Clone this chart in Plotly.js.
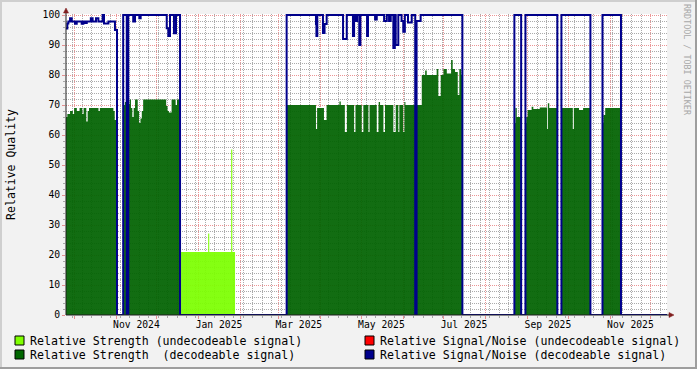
<!DOCTYPE html>
<html><head><meta charset="utf-8">
<script src="https://cdn.plot.ly/plotly-3.0.1.min.js"></script>
<style>html,body{margin:0;padding:0;background:#f2f2f2;overflow:hidden}#chart{width:697px;height:369px}</style>
</head><body><div id="chart"></div>
<script>
// ---------- data ----------
const labelDates = ['2024-11-16','2025-01-16','2025-03-16','2025-05-16','2025-07-16','2025-09-16','2025-11-16'];
const labelTexts = ['Nov 2024','Jan 2025','Mar 2025','May 2025','Jul 2025','Sep 2025','Nov 2025'];

// Relative Strength (undecodeable signal)
const strUndDates = ['2024-09-25','2024-12-19','2025-01-08','2025-01-08 20:00','2025-01-25','2025-01-25 20:00','2025-01-27 21:00','2025-12-13'];
const strUndValues = [0,21,27.2,21,55.2,21,0,0];

// Relative Strength (decodeable signal)
const strDecDates = [
 '2024-09-25','2024-09-26','2024-09-28','2024-09-30','2024-10-01','2024-10-03','2024-10-05','2024-10-07','2024-10-08','2024-10-10','2024-10-11','2024-10-12','2024-10-19','2024-10-20','2024-10-30','2024-10-31','2024-11-01 16:00',
 '2024-11-06 06:00','2024-11-07 12:00','2024-11-08 21:00',
 '2024-11-10','2024-11-11','2024-11-12','2024-11-13','2024-11-14','2024-11-15','2024-11-17','2024-11-18','2024-11-19','2024-11-20','2024-11-21','2024-12-08','2024-12-09','2024-12-10','2024-12-12','2024-12-15','2024-12-16','2024-12-18 06:00',
 '2025-03-07','2025-03-28 16:00','2025-03-29 12:00','2025-04-03 14:00','2025-04-05 12:00','2025-04-15','2025-04-16','2025-04-19','2025-04-20 12:00','2025-04-25 20:00','2025-04-26 20:00','2025-05-01 12:00','2025-05-02 16:00','2025-05-06 10:00','2025-05-07 06:00','2025-05-12 14:00','2025-05-13 20:00','2025-05-14','2025-05-15','2025-05-17 12:00','2025-05-18 16:00','2025-05-24 20:00','2025-05-26 14:00','2025-05-28 12:00','2025-05-29 06:00','2025-06-01 04:00','2025-06-02','2025-06-02 18:00','2025-06-10',
 '2025-06-11','2025-06-14 20:00','2025-06-17 08:00','2025-06-18 12:00','2025-06-25 20:00','2025-06-27 02:00','2025-06-28 20:00','2025-06-30 20:00','2025-07-03 08:00','2025-07-06 12:00','2025-07-07 16:00','2025-07-09 10:00','2025-07-11 10:00','2025-07-12 14:00','2025-07-13 22:00','2025-07-14 20:00',
 '2025-08-22 06:00','2025-08-23','2025-08-24','2025-08-27 06:00',
 '2025-08-30 10:00','2025-08-31','2025-09-01','2025-09-04','2025-09-05 06:00','2025-09-10','2025-09-15 10:00','2025-09-16','2025-09-17','2025-09-23',
 '2025-09-26','2025-10-04 10:00','2025-10-05 04:00','2025-10-09','2025-10-12','2025-10-17 10:00',
 '2025-10-26 08:00','2025-10-27','2025-10-28 08:00','2025-11-08 08:00','2025-11-09','2025-12-13'];
const strDecValues = [
 66,67,68,67,69,68,69,67,69,64.5,68,69,68,69,68,65,0,
 70,71,0,
 70.3,71.8,69,66,69,71.8,68,64,65.5,68,71.8,69.7,68,67.5,71.8,70,71.8,0,
 70,62,69,65,70,71.2,70,61,70,61,70,61,70,61,70,61,70,71,70,61,70,61,70,61,70,61,71,70,0,
 70,80,81.5,80,82,73,80,82,80.5,85,82,81,73.3,82,80,0,
 64,69,66,0,
 64,66,68.3,69.4,68.7,69.2,62,70.6,69,0,
 69,62,69,68.3,69,0,
 64,66.7,69,70.6,0,0];

// Relative Signal/Noise (decodeable signal)
const snDates = [
 '2024-09-25','2024-09-26','2024-09-26 18:00','2024-09-28','2024-09-29 06:00','2024-10-01 16:00','2024-10-02 22:00','2024-10-06 14:00','2024-10-07 20:00','2024-10-09','2024-10-10 08:00','2024-10-13 08:00','2024-10-14 16:00','2024-10-17 04:00','2024-10-18 22:00','2024-10-22 02:00','2024-10-23 02:00','2024-10-26 08:00','2024-10-31 04:00','2024-11-01 16:00',
 '2024-11-06 06:00','2024-11-08 21:00',
 '2024-11-10','2024-11-13 16:00','2024-11-15','2024-11-18 04:00','2024-11-19 04:00','2024-12-08 10:00','2024-12-09 14:00','2024-12-10 20:00','2024-12-13 18:00','2024-12-15 06:00','2024-12-18 06:00',
 '2025-03-07','2025-03-28 16:00','2025-03-29','2025-03-29 16:00','2025-04-02 20:00','2025-04-04','2025-04-05 14:00','2025-04-17 16:00','2025-04-20 10:00','2025-04-25','2025-04-25 20:00','2025-04-27','2025-04-28','2025-04-29 16:00','2025-04-30 12:00','2025-05-05 10:00','2025-05-06 02:00','2025-05-11 08:00','2025-05-12 14:00','2025-05-18','2025-05-20','2025-05-21 16:00','2025-05-22 22:00','2025-05-24 20:00','2025-05-25 22:00','2025-05-26 14:00','2025-05-28 12:00','2025-05-30 22:00','2025-06-01 04:00','2025-06-02 08:00','2025-06-04 16:00','2025-06-07 10:00','2025-06-10',
 '2025-06-11','2025-06-14','2025-07-14 20:00',
 '2025-08-22 06:00','2025-08-27 06:00',
 '2025-08-30 10:00','2025-09-23',
 '2025-09-26','2025-10-17 10:00',
 '2025-10-26 08:00','2025-11-09','2025-12-13'];
const snValues = [
 95.5,97.2,97.8,98.9,97.8,97.1,97.8,97.1,97.8,97.3,97.8,98.9,97.8,98.9,97.8,100,97.2,97.8,95,0,
 100,0,
 100,97.8,100,98.9,100,95.6,93,100,93.9,100,0,
 100,97,93,100,94,97,100,92,100,93,100,98,100,90,100,93,100,98.5,100,98,100,98,100,89,100,90,100,98,94.4,100,97.5,100,0,
 98,100,0,
 100,0,
 100,0,
 100,0,
 100,0,0];

// ---------- layout helpers ----------
const W = 697, H = 369, L = 66, R = 30, T = 14, B = 54;
const PW = W - L - R, PH = H - T - B;
const px = x => (x - L) / PW;
const py = y => (H - B - y) / PH;

const MONO = 'DejaVu Sans Mono';
const GRID = 'rgba(143,143,143,0.75)';
const MGRID = 'rgba(222,79,79,0.6)';
const ARROW = '#801f1f';
const DASH = '1px,1px';
const xRange = ['2024-09-25', '2025-12-13'];
const yRange = [0, 100.34];

const colUnd = '#7fff00', colDec = '#006600', colSnUnd = '#ff0000', colSn = '#00008b';
const fillUnd = 'rgba(124,255,0,0.93)', fillDec = 'rgba(0,98,0,0.93)';

const traces = [
  {type:'scatter', mode:'lines', x:strUndDates, y:strUndValues, line:{shape:'hv', width:0, color:colUnd}, fill:'tozeroy', fillcolor:fillUnd, xaxis:'x', yaxis:'y'},
  {type:'scatter', mode:'lines', x:strDecDates, y:strDecValues, line:{shape:'hv', width:0, color:colDec}, fill:'tozeroy', fillcolor:fillDec, xaxis:'x', yaxis:'y'},
  {type:'scatter', mode:'lines', x:snDates, y:snValues, line:{shape:'hv', width:2, color:colSn}, xaxis:'x2', yaxis:'y'}
];

const legendItems = [
  {text:'Relative Strength (undecodeable signal)', color:colUnd, sx:15, tx:30, cy:341},
  {text:'Relative Signal/Noise (undecodeable signal)', color:colSnUnd, sx:365, tx:380, cy:341},
  {text:'Relative Strength \u00a0(decodeable signal)', color:colDec, sx:15, tx:30, cy:355},
  {text:'Relative Signal/Noise (decodeable signal)', color:colSn, sx:365, tx:380, cy:355}
];

const shapes = [
  {type:'rect', xref:'paper', yref:'paper', x0:px(0), x1:px(W), y0:py(0), y1:py(2), fillcolor:'#cfcfcf', line:{width:0}},
  {type:'rect', xref:'paper', yref:'paper', x0:px(0), x1:px(2), y0:py(0), y1:py(H), fillcolor:'#cfcfcf', line:{width:0}},
  {type:'rect', xref:'paper', yref:'paper', x0:px(0), x1:px(W), y0:py(H-2), y1:py(H), fillcolor:'#9e9e9e', line:{width:0}},
  {type:'rect', xref:'paper', yref:'paper', x0:px(W-2), x1:px(W), y0:py(0), y1:py(H), fillcolor:'#9e9e9e', line:{width:0}},
  {type:'line', xref:'paper', yref:'paper', x0:px(66), x1:px(66), y0:py(315), y1:py(10), line:{color:'#1f1f1f', width:1}},
  {type:'line', xref:'paper', yref:'paper', x0:px(66), x1:px(671), y0:py(315), y1:py(315), line:{color:'#1f1f1f', width:1}},
  {type:'path', xref:'paper', yref:'paper', path:`M ${px(63.5)},${py(13)} L ${px(68.5)},${py(13)} L ${px(66)},${py(8)} Z`, fillcolor:ARROW, line:{color:ARROW, width:0.5}},
  {type:'path', xref:'paper', yref:'paper', path:`M ${px(669)},${py(312.5)} L ${px(669)},${py(317.5)} L ${px(674)},${py(315)} Z`, fillcolor:ARROW, line:{color:ARROW, width:0.5}}
];
legendItems.forEach(it => {
  shapes.push({type:'rect', xref:'paper', yref:'paper', x0:px(it.sx), x1:px(it.sx+9), y0:py(it.cy-5), y1:py(it.cy+4), fillcolor:it.color, line:{color:'#000', width:1}});
});

const annotations = legendItems.map(it => ({
  xref:'paper', yref:'paper', x:px(it.tx), y:py(it.cy), xanchor:'left', yanchor:'middle', showarrow:false,
  text:it.text, borderpad:0, borderwidth:0, font:{family:MONO, size:11.6, color:'#000'}
}));
annotations.push({xref:'paper', yref:'paper', x:px(687), y:py(60), xanchor:'center', yanchor:'middle', showarrow:false,
  text:'RRDTOOL / TOBI OETIKER', textangle:90, borderpad:0, font:{family:MONO, size:8.4, color:'#a8a8a8'}});

const layout = {
  width:W, height:H, margin:{l:L, r:R, t:T, b:B, pad:0},
  paper_bgcolor:'#f2f2f2', plot_bgcolor:'#ffffff', showlegend:false, hovermode:false,
  font:{family:MONO, size:9.7, color:'#000'},
  // grid axis: month lines (major) and week lines (minor)
  xaxis:{type:'date', range:xRange, tickmode:'linear', tick0:'2024-10-01', dtick:'M1', showticklabels:false,
    ticks:'outside', ticklen:3, tickcolor:MGRID, showgrid:true, gridcolor:MGRID, griddash:DASH, gridwidth:1,
    showline:false, zeroline:false,
    minor:{tickmode:'linear', tick0:'2024-09-30', dtick:7*86400000, showgrid:true, gridcolor:GRID, griddash:DASH, ticks:'outside', ticklen:2, tickcolor:GRID}},
  // label axis: labels centred in their month
  xaxis2:{type:'date', range:xRange, overlaying:'x', anchor:'y', side:'bottom', tickmode:'array', tickvals:labelDates, ticktext:labelTexts,
    ticks:'', showgrid:false, showline:false, zeroline:false, tickfont:{family:MONO, size:9.7, color:'#000'}, ticklabelstandoff:2},
  yaxis:{range:yRange, tickmode:'linear', tick0:0, dtick:10, ticks:'outside', ticklen:3, tickcolor:MGRID,
    showgrid:true, gridcolor:MGRID, griddash:DASH, zeroline:false, showline:false,
    tickfont:{family:MONO, size:9.7, color:'#000'},
    title:{text:'Relative Quality', font:{family:MONO, size:11.5, color:'#000'}, standoff:24},
    minor:{tickmode:'linear', tick0:0, dtick:2, showgrid:true, gridcolor:GRID, griddash:DASH, ticks:'outside', ticklen:2, tickcolor:GRID}},
  shapes:shapes, annotations:annotations
};

Plotly.newPlot('chart', traces, layout, {staticPlot:true, displayModeBar:false});
</script></body></html>
